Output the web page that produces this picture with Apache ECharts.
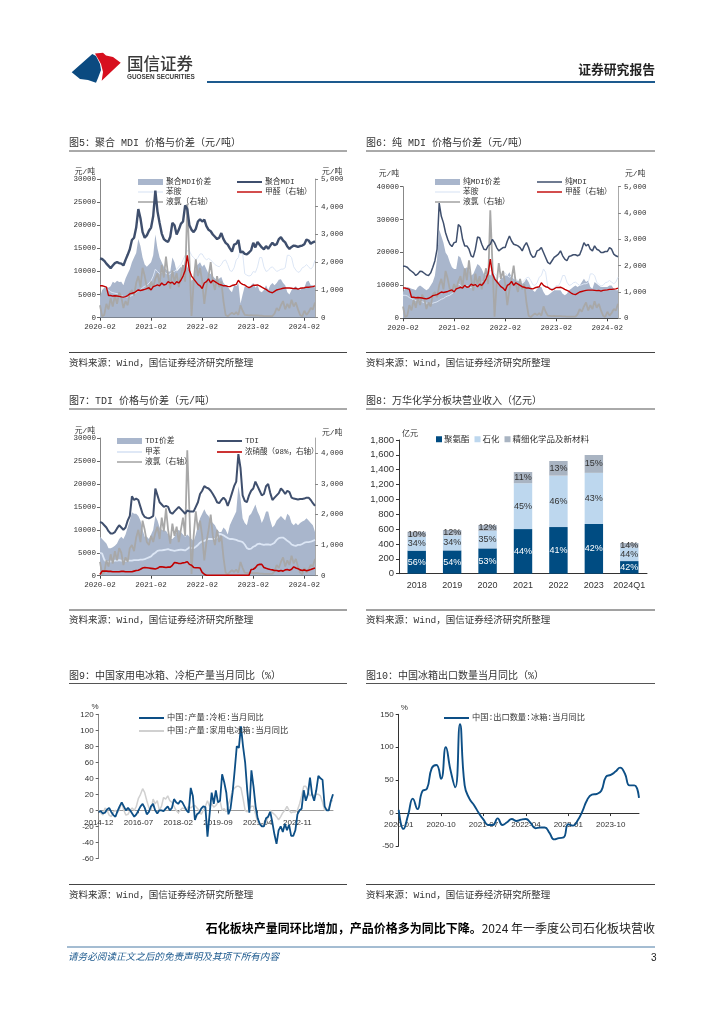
<!DOCTYPE html>
<html><head><meta charset="utf-8">
<style>html,body{margin:0;padding:0;background:#fff}#c{width:724px;height:1024px}</style>
<script src="https://cdn.jsdelivr.net/npm/echarts@6/dist/echarts.min.js"></script>
</head><body><div id="c"></div>
<script>
const halfMonths=[];for(let y=2020,m=2,k=0;k<102;k++){halfMonths.push(y+'-'+String(m).padStart(2,'0'));if(k%2){m++;if(m>12){m=1;y++;}}}
const spread5=[4500,6000,6500,6700,6500,6800,7800,7500,8000,7700,7800,7000,8500,9500,10500,12000,13000,14000,17000,15500,13000,11500,11000,11500,12000,13500,18000,15000,13000,12000,11000,10500,10000,10000,13000,12000,10000,10500,11000,10500,12500,11000,10000,8000,8500,11000,11500,12000,11000,11500,10500,9500,9500,9000,8500,8000,8500,8800,7500,7000,6800,6000,5500,7000,6800,7500,3000,5000,6800,6500,6500,7000,7500,6500,7000,5800,5500,6000,7000,6000,7000,7500,7000,7500,8200,8300,7500,7000,5500,5000,6000,6500,6800,6300,6000,6500,6500,7800,8000,7000,7000,6500];
const polyMDI=[12800,12700,12300,11700,11200,10700,11300,11800,12000,11800,11700,11300,12500,13600,14800,16800,17300,19500,23500,21500,18500,17300,17800,18800,19500,22000,27500,23000,20500,18200,17000,16600,16400,17500,20500,20000,18000,19000,20300,20800,24300,23500,20000,19000,18500,19200,20800,21300,20800,21200,19800,19000,18700,18000,17500,17000,17300,18300,17000,16200,15800,15000,14300,15800,16000,16800,14100,14300,13800,13700,14100,14600,16200,15200,16400,15800,15200,14800,15500,14900,15600,16200,15700,15900,17000,17400,16700,16300,15400,14900,15300,15600,15500,15300,15500,15600,15900,16900,16700,16000,16300,16500];
const aniline=[7000,7000,6800,6300,6000,5600,5400,5300,5200,5000,4800,4600,4500,4500,4600,4800,5000,5400,5800,6000,6500,6800,7000,7500,8000,9000,10500,10000,9500,9800,10000,9600,9300,9500,10000,10000,10500,11000,11500,12500,13500,14500,14500,13500,13000,12500,13000,13800,13800,13000,12500,12800,12500,12000,11500,11200,11000,11500,12300,12500,11500,10200,10000,10800,12500,13000,15000,14000,9500,9200,9000,9200,10000,9800,11000,13000,13000,11000,10000,10200,10800,11000,10500,10000,10200,10500,10500,10800,13500,13500,13000,11000,10300,9800,10000,10800,11000,11500,11000,10500,11000,12500];
const chlorine=[450,50,100,500,300,700,400,800,500,900,750,350,600,450,900,1000,800,1250,1500,1100,1800,1500,1100,1000,1300,1100,1400,1600,1200,1900,1450,2200,1500,1050,1700,1300,1600,1100,1500,1900,1300,4100,2100,60,1300,2100,1500,1800,1300,500,1100,1500,2000,1300,1000,1500,1100,1300,600,100,50,120,180,120,200,100,450,250,100,90,80,90,80,80,80,70,70,60,60,60,60,60,150,350,250,450,600,300,500,350,650,400,550,300,100,50,250,100,200,350,300,550];
const formaldehyde=[1150,1150,1130,1100,800,800,780,790,780,770,750,740,760,800,860,880,900,950,1000,980,1000,1020,1050,1080,1000,1120,1150,1180,1150,1250,1180,1200,1300,1250,1280,1200,1300,1250,1350,1500,1700,2250,1700,1500,1400,1300,1200,1150,1050,1250,1300,1400,1250,1350,1300,1250,1200,1180,1150,1150,1130,1120,1160,1180,1200,1350,1250,1200,1180,1120,1080,1120,1170,1170,1180,1150,1100,1060,1020,960,920,900,950,1000,1020,1040,1060,1070,1070,1070,1060,1050,1060,1030,1060,1070,1080,1100,1100,1110,1120,1150];
const spread6=[8000,9000,9500,9300,9000,8800,8500,9500,10000,9500,9000,8500,9000,10000,11000,13000,18000,27000,25000,23000,20000,19000,17000,15500,15000,15000,19000,18500,16500,15000,15500,15000,13000,13500,15000,16500,16000,15000,13500,13000,13500,13000,14000,13000,11500,11000,12000,12500,13000,13000,14000,12500,12000,11500,11500,11000,10500,11000,12000,11000,9500,8500,8000,9000,9500,9500,8000,7000,7000,7500,8000,8500,8500,8500,8500,7500,7000,7500,8500,9000,9500,10000,9500,10000,11000,12000,11000,11500,9500,9000,11000,10500,10000,9500,9500,9500,9500,10000,10000,9000,8500,8500];
const pureMDI=[15800,15800,15500,14800,14300,13800,13000,13500,14300,14200,13700,13200,13000,13800,15500,17500,21000,35000,31000,29000,26000,24000,22500,21800,23000,23200,28500,27800,24000,22000,22000,21000,19000,18600,21000,24700,24500,22500,21000,20800,22000,22500,24000,23000,21500,20500,21000,21500,21500,23500,25000,23500,22500,22300,22000,21500,20500,22000,23000,21500,19500,18500,18800,20500,20800,21500,20000,18500,17000,16500,17500,18500,19000,19500,20500,19000,18000,17500,18800,19000,19300,19300,19000,19300,21000,23000,22000,22500,21000,20500,22000,21000,20700,20000,20000,20300,20300,21500,21000,19500,19000,18700];
const spreadTDI=[8500,8000,7500,7000,6000,6000,6200,6500,7000,8000,8500,8000,9000,10500,12000,13800,13500,13500,13000,12000,10000,8500,8500,8000,9000,10000,13000,12000,10500,10000,9800,9800,9000,8000,8000,8500,9500,10000,9500,9000,8500,9000,8500,8000,7500,9000,11000,12500,13500,14500,13500,13000,12000,11500,11000,10000,9500,9500,10500,10000,9000,11000,12000,13000,14000,19500,17000,12500,11500,11000,13000,13500,14500,15500,14000,13000,11500,12500,14000,14000,12000,10500,11000,12000,12500,13000,12500,12000,13500,13000,11500,11000,11500,11000,11500,11800,12000,12500,12000,11500,11000,9500];
const tdi=[11700,11500,11000,10500,9700,9200,9200,9500,10300,11000,10500,10000,10500,12000,13000,17300,16500,16800,16500,15000,13500,12800,12600,12500,12700,13000,19000,17500,16000,15500,15000,15200,15000,13800,13500,14000,14500,15000,14500,14000,13500,14200,14000,14000,14000,15000,16000,17800,18500,19500,19200,19000,18500,17800,17000,16000,15800,16500,17000,16500,15200,16500,18000,19500,20500,26500,23500,17500,16300,16000,17500,18500,19000,20500,19500,18500,17500,17800,19500,20000,18000,16500,17000,17500,18000,19000,18500,17800,18500,18200,17000,16800,16700,16600,16700,16700,16800,17000,17000,16500,15800,15200];
const toluene=[5000,4800,3500,3000,3000,3100,3200,3300,3300,3400,3300,3300,3200,3300,3300,3300,3400,3400,3400,3500,3500,3600,3800,4000,4200,4700,5000,5400,5500,5500,5600,5700,5800,5600,5500,5400,5500,5600,5700,5600,5500,5800,6200,6000,6000,6300,6700,7200,7500,7600,7800,8000,8000,8000,8000,8300,9200,9000,8800,8500,8200,8000,8000,7900,7800,7600,7500,7300,6800,6000,5800,5900,6300,6500,6900,7000,6800,6700,6800,6800,6700,6900,7200,7800,8200,8300,8300,8000,7600,7300,6800,6600,6500,6700,6700,6900,7200,7300,7300,7400,7600,7800];
const nitric=[40,150,150,150,140,140,130,130,130,130,140,140,130,130,130,130,150,170,180,210,250,270,260,250,240,230,220,240,290,290,280,270,280,280,340,430,420,400,400,420,430,460,370,340,270,260,260,250,110,50,15,15,15,15,15,15,15,15,15,15,15,15,15,15,15,15,15,15,15,15,15,200,210,260,350,370,370,270,240,220,200,190,170,170,150,170,150,190,200,180,210,290,250,230,190,170,190,160,180,200,230,250];

const segYears=['2018','2019','2020','2021','2022','2023','2024Q1'];
const polyurethane=[311,314,341,601,628,669,170];
const petrochem=[187,203,235,617,692,689,185];
const fineChem=[67,71,79,151,197,240,58];
const pctPU=['56%','54%','53%','44%','41%','42%','42%'];
const pctPetro=['34%','34%','35%','45%','46%','43%','44%'];
const pctFine=['10%','12%','12%','11%','13%','15%','14%'];

const freezerMonths=[];for(let y=2014,m=12,k=0;k<113;k++){freezerMonths.push(y+'-'+String(m).padStart(2,'0'));m++;if(m>12){m=1;y++;}}
const freezer=[-2,-1,-4,-3,1,3,-2,-6,-8,-1,5,10,5,0,3,0,-4,-8,-5,0,5,8,3,-5,-2,5,8,0,-4,0,0,-1,2,5,0,3,14,10,8,12,10,5,0,-3,28,18,-12,-5,-3,2,5,4,-33,-5,22,8,25,10,12,45,35,22,-5,2,22,50,80,78,105,80,60,25,-3,50,30,5,-10,-17,-20,-20,-10,-8,-2,-15,-30,-42,-25,-20,-27,-17,-25,-18,-32,-32,-25,-5,0,2,25,12,20,41,20,12,25,43,40,38,5,0,0,12,20];
const fridge=[0,-3,-6,3,0,-6,-8,-2,0,-3,2,10,0,-6,-5,0,3,0,5,15,20,27,22,12,3,0,14,8,12,0,5,16,14,18,12,10,5,0,-3,0,3,2,0,5,3,5,6,3,0,-5,0,5,12,5,8,4,6,10,12,0,2,-2,8,15,25,28,30,30,28,15,0,-2,2,5,5,-5,-15,-18,-19,-17,-15,-8,0,-3,-5,-8,-12,-8,-3,0,5,0,-3,-2,-2,0,8,18,30,30,25,18,20,18,20,20,18,10,0,0,2,12,12];
const exportMonths=[];for(let y=2020,m=1,k=0;k<52;k++){exportMonths.push(y+'-'+String(m).padStart(2,'0'));m++;if(m>12){m=1;y++;}}
const fridgeExport=[5,-24,-3,22,6,33,37,68,73,52,100,65,39,135,42,22,12,0,-10,-18,-18,-8,-18,-14,-9,-12,-10,-9,-15,-23,-22,-22,-30,-40,-38,-37,-17,-19,-11,3,20,28,29,34,55,58,63,69,60,42,42,23];
const rightTicks7=[0,1000,2000,3000,4000];

const F='"Liberation Mono","Noto Sans CJK SC",monospace', S='"Liberation Sans","Noto Sans CJK SC",sans-serif', C='"Noto Sans CJK SC",sans-serif';
const comma=v=>v.toLocaleString('en-US');
const NAVY='#3f4f6d',AREA='#a9b6cc',LIGHT='#dce6f5',GREY='#a8a8a8',RED='#c00000',BLUE='#0d4f86';
const titles=[[69,143.5,'图5：聚合 MDI 价格与价差（元/吨）'],[366,143.5,'图6：纯 MDI 价格与价差（元/吨）'],[69,401.5,'图7：TDI 价格与价差（元/吨）'],[366,401.5,'图8：万华化学分板块营业收入（亿元）'],[69,676,'图9：中国家用电冰箱、冷柜产量当月同比（%）'],[366,676,'图10：中国冰箱出口数量当月同比（%）']];
const titleRules=[151,409,683.5], sourceRules=[352.5,610,884.5];
const sourceText='资料来源：Wind，国信证券经济研究所整理';

const graphic=[];
const rule=(x1,x2,y,c,w)=>graphic.push({type:'line',silent:true,shape:{x1,y1:y,x2,y2:y},style:{stroke:c,lineWidth:w}});
const txt=(x,y,t,font,fill,align,extra)=>graphic.push({type:'text',silent:true,x,y,style:Object.assign({text:t,font,fill,textAlign:align||'left',textVerticalAlign:'middle'},extra||{})});
titles.forEach(a=>txt(a[0],a[1],a[2],'10px '+F,'#333'));
[[69,347],[366,655]].forEach(c=>{titleRules.forEach(y=>rule(c[0],c[1],y,'#555',1));sourceRules.forEach(y=>{rule(c[0],c[1],y,'#444',1);txt(c[0],y+10.5,sourceText,'9.5px '+F,'#333');});});
// header
graphic.push({type:'polygon',silent:true,shape:{points:[[71.7,72.3],[92.3,54],[96,56],[100,64],[101,70],[98,78],[96,82.7],[88,80],[80,79]]},style:{fill:'#0b4a80'}});
graphic.push({type:'polygon',silent:true,shape:{points:[[95,53.5],[103,52.7],[106,55.5],[113,57],[120.7,62.7],[101.7,80.7],[103,72],[101,64],[97,57]]},style:{fill:'#d7101f'}});
txt(127,63.5,'国信证券','500 16.5px '+C,'#3a3a3a');
txt(127,77.5,'GUOSEN SECURITIES','bold 6.4px '+S,'#3a3a3a');
rule(207,655,82,'#1d5a8e',2);
txt(655,69,'证券研究报告','bold 12.8px '+C,'#222','right');
// bottom text
graphic.push({type:'text',silent:true,x:655,y:928,style:{text:'{b|石化板块产量同环比增加，产品价格多为同比下降。}{r|2024 年一季度公司石化板块营收}',textAlign:'right',textVerticalAlign:'middle',rich:{b:{font:'bold 12px '+C,fill:'#000'},r:{font:'12px '+C,fill:'#222'}}}});
rule(67,655,947,'#4a7aa5',1);
txt(68,956,'请务必阅读正文之后的免责声明及其项下所有内容','italic 9.6px '+C,'#1d5a8e');
txt(651,958.5,'3','10px '+S,'#222');

const grid=[{left:100,top:179,width:215,height:138.7},{left:403,top:186.7,width:215,height:131.6},{left:100,top:438,width:215,height:137.7},{left:399,top:440,width:248,height:133.7},{left:98.7,top:714.3,width:234.3,height:144},{left:398.7,top:714.3,width:240.3,height:131.7}];
const mono=7.5;
const dateX=g=>({type:'category',gridIndex:g,data:halfMonths,boundaryGap:false,axisLine:{lineStyle:{color:'#444',width:1}},axisTick:{alignWithLabel:true,interval:23,length:3,lineStyle:{color:'#444'}},axisLabel:{interval:23,fontFamily:F,fontSize:mono,color:'#333',margin:6,hideOverlap:false},splitLine:{show:false}});
const leftY=(g,max,step,gap,pad)=>({type:'value',gridIndex:g,min:0,max,interval:step,name:'元/吨',nameGap:gap,nameTextStyle:{fontFamily:F,fontSize:7.8,color:'#333',align:'right',padding:[0,pad,0,0]},axisLine:{show:true,lineStyle:{color:'#888'}},axisTick:{show:true,length:3,lineStyle:{color:'#666'}},axisLabel:{fontFamily:F,fontSize:mono,color:'#333',margin:4,formatter:v=>String(v)},splitLine:{show:false}});
const rightY=(g,max,step,gap)=>({type:'value',gridIndex:g,position:'right',min:0,max,interval:step,name:'元/吨',nameGap:gap,nameTextStyle:{fontFamily:F,fontSize:7.8,color:'#333',align:'left',padding:[0,0,0,7]},axisLine:{show:true,lineStyle:{color:'#aaa'}},axisTick:{show:true,length:3,lineStyle:{color:'#888'}},axisLabel:{fontFamily:F,fontSize:mono,color:'#333',margin:6,formatter:comma},splitLine:{show:false}});
const area=(name,data,x,y)=>({name,type:'line',xAxisIndex:x,yAxisIndex:y,data,symbol:'none',lineStyle:{width:0,color:AREA},itemStyle:{color:AREA},areaStyle:{color:AREA,opacity:1},z:1});
const line=(name,data,x,y,color,width,z)=>({name,type:'line',xAxisIndex:x,yAxisIndex:y,data,symbol:'none',lineStyle:{color,width},itemStyle:{color},z});
const row=(left,y,name,h,fs)=>({left,top:y-5.5,orient:'vertical',itemWidth:25,itemHeight:h,itemGap:0,textStyle:{fontFamily:F,fontSize:fs||7.8,lineHeight:11,color:'#333',padding:[0,0,0,-2]},selectedMode:false,data:[{name,icon:'rect'}]});
const bars=(name,data,color,labels,labelColor)=>({name,type:'bar',xAxisIndex:3,yAxisIndex:6,stack:'t',data,barWidth:'52%',itemStyle:{color},label:{show:true,position:'inside',fontFamily:S,fontSize:9,color:labelColor,formatter:p=>labels[p.dataIndex]}});

const right7=rightY(2,4500,1000,1.3);
right7.axisLabel.customValues=rightTicks7;
right7.axisTick.customValues=rightTicks7;

const option={animation:false,textStyle:{fontFamily:S},grid,graphic:{elements:graphic},
legend:[
 row(133,177,'聚合MDI价差',6),row(133,187,'苯胺',1.2),row(133,197,'液氯（右轴）',1.6),
 row(232,177,'聚合MDI',2),row(232,187,'甲醛（右轴）',1.4),
 row(430,177,'纯MDI价差',6),row(430,187,'苯胺',1.2),row(430,197,'液氯（右轴）',1.6),
 row(532,177,'纯MDI',1.5),row(532,187,'甲醛（右轴）',1.4),
 row(112,436,'TDI价差',6),row(112,447,'甲苯',1.8),row(112,457,'液氯（右轴）',1.6),
 row(212,436,'TDI',2),row(212,447,'浓硝酸（98%，右轴）',1.6,7.5),
 {left:431,top:430,itemWidth:6,itemHeight:6,itemGap:5,textStyle:{fontFamily:C,fontSize:8.5,color:'#333',padding:[0,0,0,-3]},selectedMode:false,data:[{name:'聚氨酯',icon:'rect'},{name:'石化',icon:'rect'},{name:'精细化学品及新材料',icon:'rect'}]},
 row(134,713,'中国:产量:冷柜:当月同比',2,8.2),row(134,726,'中国:产量:家用电冰箱:当月同比',2,8.2),
 row(439,713,'中国:出口数量:冰箱:当月同比',2,8.2)
],
xAxis:[dateX(0),dateX(1),dateX(2),
 {type:'category',gridIndex:3,data:segYears,axisLine:{lineStyle:{color:'#333'}},axisTick:{length:3,lineStyle:{color:'#333'}},axisLabel:{fontFamily:S,fontSize:9,color:'#333',margin:7,interval:0}},
 {type:'category',gridIndex:4,data:freezerMonths,boundaryGap:false,axisLine:{onZero:true,lineStyle:{color:'#999'}},axisTick:{alignWithLabel:true,interval:18,length:3,lineStyle:{color:'#666'}},axisLabel:{interval:18,fontFamily:S,fontSize:8,color:'#333',margin:-40}},
 {type:'category',gridIndex:5,data:exportMonths,boundaryGap:false,axisLine:{onZero:true,lineStyle:{color:'#333'}},axisTick:{alignWithLabel:true,interval:8,length:3,lineStyle:{color:'#333'}},axisLabel:{interval:8,fontFamily:S,fontSize:8,color:'#333',margin:-25}}
],
yAxis:[leftY(0,30000,5000,2,5),rightY(0,5000,1000,2),leftY(1,40000,10000,8.7,4),rightY(1,5000,1000,8.7),leftY(2,30000,5000,1.3,5),right7,
 {type:'value',gridIndex:3,min:0,max:1800,interval:200,name:'亿元',nameGap:3,nameTextStyle:{fontFamily:C,fontSize:8,color:'#333',align:'left',padding:[0,0,0,3]},axisLine:{show:true,lineStyle:{color:'#333'}},axisTick:{show:true,length:3,lineStyle:{color:'#333'}},axisLabel:{fontFamily:S,fontSize:9.5,color:'#333',margin:5,formatter:comma},splitLine:{show:false}},
 {type:'value',gridIndex:4,min:-60,max:120,interval:20,name:'%',nameGap:3,nameTextStyle:{fontFamily:S,fontSize:8,color:'#333',align:'right'},axisLine:{show:true,lineStyle:{color:'#888'}},axisTick:{show:true,length:3,lineStyle:{color:'#666'}},axisLabel:{fontFamily:S,fontSize:8,color:'#333',margin:5},splitLine:{show:false}},
 {type:'value',gridIndex:5,min:-50,max:150,interval:50,name:'%',nameGap:3,nameTextStyle:{fontFamily:S,fontSize:8,color:'#333',align:'left',padding:[0,0,0,2]},axisLine:{show:true,lineStyle:{color:'#333'}},axisTick:{show:true,length:3,lineStyle:{color:'#333'}},axisLabel:{fontFamily:S,fontSize:8,color:'#333',margin:5},splitLine:{show:false}}
],
series:[
 area('聚合MDI价差',spread5,0,0),line('苯胺',aniline,0,0,LIGHT,1,2),line('液氯（右轴）',chlorine,0,1,GREY,1.8,3),line('聚合MDI',polyMDI,0,0,NAVY,2.4,4),line('甲醛（右轴）',formaldehyde,0,1,RED,1.4,5),
 area('纯MDI价差',spread6,1,2),line('苯胺',aniline,1,2,LIGHT,1,2),line('液氯（右轴）',chlorine,1,3,GREY,1.8,3),line('纯MDI',pureMDI,1,2,NAVY,1.5,4),line('甲醛（右轴）',formaldehyde,1,3,RED,1.4,5),
 area('TDI价差',spreadTDI,2,4),line('甲苯',toluene,2,4,LIGHT,1.8,2),line('液氯（右轴）',chlorine,2,5,GREY,1.8,3),line('TDI',tdi,2,4,NAVY,2,4),line('浓硝酸（98%，右轴）',nitric,2,5,RED,1.6,5),
 bars('聚氨酯',polyurethane,'#004c82',pctPU,'#fff'),bars('石化',petrochem,'#bdd7ee',pctPetro,'#333'),bars('精细化学品及新材料',fineChem,'#a9b4c2',pctFine,'#333'),
 line('中国:产量:家用电冰箱:当月同比',fridge,4,7,'#d0d0d0',1.5,2),line('中国:产量:冷柜:当月同比',freezer,4,7,BLUE,1.8,3),
 Object.assign(line('中国:出口数量:冰箱:当月同比',fridgeExport,5,8,BLUE,1.9,3),{smooth:true})
]};
echarts.init(document.getElementById('c'),null,{renderer:'canvas'}).setOption(option);
</script></body></html>
